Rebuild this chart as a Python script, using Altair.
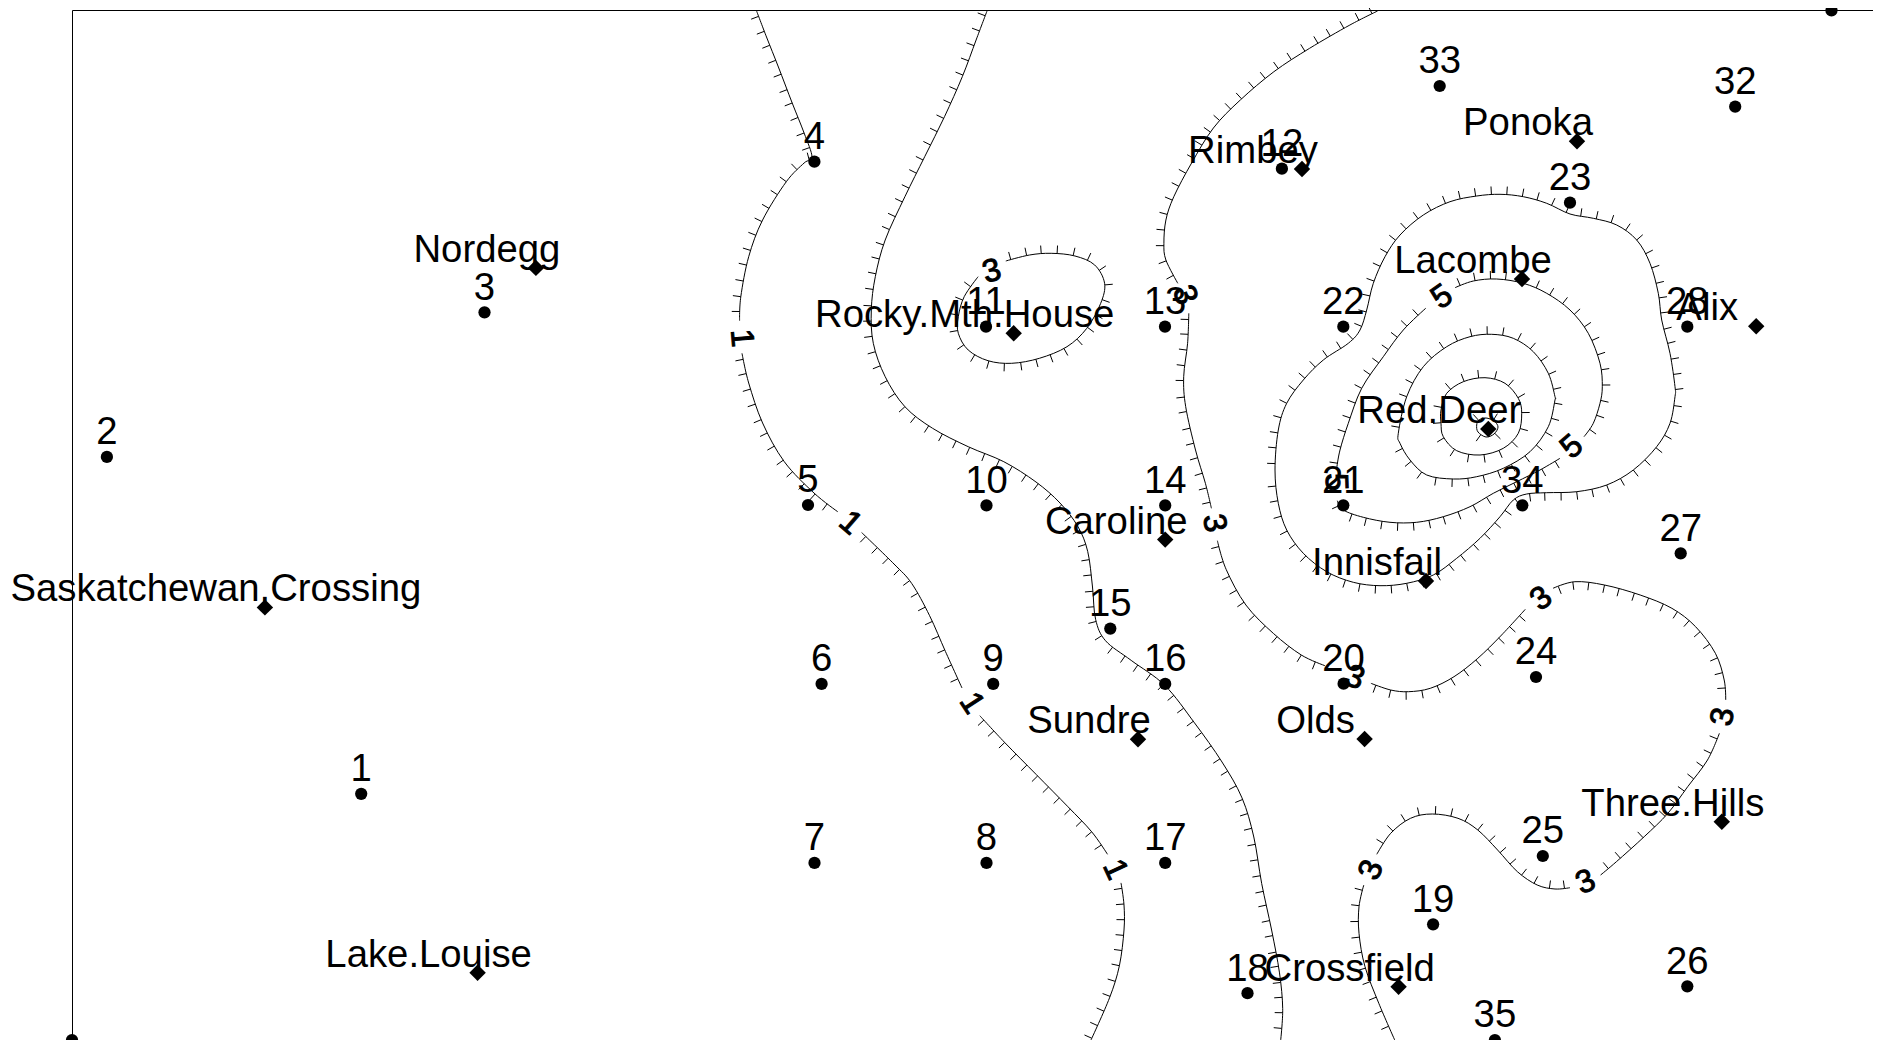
import numpy as np
import pandas as pd
import altair as alt

# Station numbers and locations
station_id = [1,2,3,4,5,6,7,8,9,10,11,12,13,14,15,16,17,18,19,20,21,22,23,24,25,26,27,28,32,33,34,35]
station_x = [361.2,106.9,484.5,814.4,808,821.6,814.5,986.5,993.2,986.5,986,1281.9,1165,1165.2,1110.3,1165.2,1165.2,1247.5,1433.1,1343.6,1343.3,1343.3,1570,1536,1542.8,1687.3,1680.7,1687.3,1735.2,1439.7,1522.3,1494.9]
station_y = [793.8,456.9,312.3,161.7,505,683.9,862.9,862.9,683.9,505.4,326.7,168.7,326.7,505.4,628.6,683.9,862.9,993.2,924.3,683.7,505.3,326.7,202.7,677,856,986.3,553.3,326.7,106.7,86,505.3,1040]
corner_x = [72, 1831.5]
corner_y = [1040, 10.5]

# Towns
town_name = ["Nordegg","Saskatchewan.Crossing","Lake.Louise","Rocky.Mth.House","Rimbey","Ponoka","Lacombe","Alix","Red.Deer","Caroline","Innisfail","Sundre","Olds","Three.Hills","Crossfield"]
town_x = [535.9,264.9,477.6,1013.7,1302,1577,1522,1756.2,1488.3,1165.2,1426,1138,1364.6,1721.8,1398.6]
town_y = [267.9,607.4,972.8,333.3,169,141.3,279,326.3,429,539.6,581,739.3,739,821.7,986.7]

# Contour labels
clabel_text = ["1","1","1","1","3","3","3","3","3","3","3","3","5","5","5"]
clabel_x = [741.7,850.5,971.9,1115.4,991.7,1184.9,1214.3,1355,1541.2,1722.6,1585.5,1370.9,1441.7,1571.7,1336]
clabel_y = [338,522.9,703,869.3,271,295,522.9,677.3,598.3,716.7,881.7,870,296.7,446.7,482]
clabel_angle = [85,41,57,65,345,70,80,21,323,280,337,293,325,319,88]

# Contour paths, traced in the direction that keeps the hachures on the right (open) or left (closed)
open_paths = {
"a1": [(756.6,11),(766.5,37),(778.4,67),(792.2,103),(804.1,133),(812,157),(804.1,163),(786.3,181.7),(762.6,220),(748.7,256.7),(740.8,296.7),(739.6,320.7)],
"a2": [(742,353.3),(748.7,383),(762.6,423),(784.3,461.7),(814,493),(837.7,511.7)],
"a3": [(861.6,532.5),(894,564),(911.8,583.6),(929.6,615.7),(945.4,651.4),(962,688)],
"a4": [(979.8,715.7),(1004.7,742.5),(1036.3,774.6),(1068,806.8),(1091.7,831.8),(1107.5,854.3)],
"a5": [(1121,882.9),(1124,905),(1124,930),(1119.4,965.7),(1109.5,997.9),(1091,1040)],
"b1": [(987,11),(976.1,40),(962.3,76.7),(944.5,116.7),(924.7,156.7),(904.9,196.7),(885.2,240),(875.3,276.7),(871.3,310),(873.3,343.3),(885.2,376.7),(904.9,406.7),(932.6,428.3),(968.2,446.7),(1003.8,461.7),(1036,482),(1060,503),(1077.8,526.4),(1087.7,551.4),(1092.5,587),(1095.6,619.3),(1105.5,640.7),(1131.2,660.4),(1164.8,685.4),(1194.5,722.9),(1222,762),(1242,797.9),(1253.8,837),(1261.7,883.6),(1271.6,930),(1279.5,972.9),(1282.7,1008.6),(1280.7,1040)],
"c1": [(1377.6,11),(1349.9,25),(1309.6,48.3),(1273.9,71.7),(1240.3,100),(1213.4,128),(1191.6,163),(1173.8,196.7),(1165.9,220),(1163.9,243.3),(1165.9,260),(1177.8,283.3)],
"c2": [(1188.8,313.3),(1187.6,343.3),(1183.7,376.7),(1185.7,406.7),(1195.5,450),(1205.4,483.3),(1211.4,508.3)],
"c3": [(1217.4,540.7),(1226.1,569.3),(1245.9,605),(1273.6,633.6),(1301.3,655),(1325,665.7)],
"c4": [(1370.9,683.3),(1390.7,690),(1408.5,691.7),(1430.3,688.3),(1454,676.7),(1477.8,658.3),(1501.6,635),(1525.3,609.3)],
"c5": [(1553,588.3),(1574.9,581.7),(1604.5,585),(1640.2,595),(1671.9,608.3),(1695.6,626.7),(1715.4,653.3),(1724.2,680),(1725.7,700)],
"c6": [(1719.4,733.3),(1707.5,760),(1687.7,786.7),(1667.9,813.3),(1644.2,836.7),(1616.4,861.7),(1600.6,875)],
"c7": [(1570,887.7),(1555,889),(1537.2,885),(1517.4,871.7),(1497.6,850),(1477.8,830),(1458,818.3),(1432.3,814),(1410.5,818.3),(1390.7,833.3),(1376.8,854.3)],
"c8": [(1363.8,885),(1359,906.7),(1359,933.3),(1365,966.7),(1378.8,1003.3),(1394.7,1040)],
}
left_open_paths = {
"d1": [(1005.8,261),(1029.5,255),(1051.2,253.3),(1075,256),(1094.7,265),(1104.6,283.3),(1100.7,303.3),(1086.8,328.3),(1067,346.7),(1039.4,358.3),(1011.7,363.3),(988,360.7),(968.2,350),(958.3,333.3),(958.3,316.7),(964.2,296.7),(978.1,276.7)],
"e1": [(1455,287.7),(1473.3,281),(1496.7,279),(1523.3,283.3),(1546.7,293.3),(1570,310),(1588.3,333.3),(1600,363.3),(1602.3,386.7),(1600,403.3),(1593.3,423.3),(1584,436.7)],
"e2": [(1560,458.3),(1540,470),(1516.7,481.7),(1493.3,493.3),(1470,506.7),(1443.3,516.7),(1416.7,522.3),(1390,522.3),(1363.3,517.3),(1343.3,510),(1337.3,500.7)],
"e3": [(1336.7,468.3),(1340,450),(1348.3,423.3),(1361.7,388.3),(1383.3,356.7),(1403.3,330),(1425.7,308.3)],
}
closed_paths = {
"f1": [(1275,470),(1278.3,430),(1286.7,403.3),(1303.3,380),(1323.3,360),(1348.3,343.3),(1360,330),(1366.7,310),(1373.3,283.3),(1385,256.7),(1400,235),(1423.3,215),(1450,201.7),(1476.7,196),(1500,194.3),(1523.3,196.7),(1546.7,203.3),(1570,214),(1593.3,218.3),(1616.7,225),(1636.7,240),(1650,263.3),(1658.3,293.3),(1661.7,320),(1670,353.3),(1675,386.7),(1675,396.7),(1670,423.3),(1656.7,446.7),(1633.3,470),(1606.7,485),(1576.7,491.7),(1546.7,492.7),(1526.7,494),(1513.3,500),(1500,516.7),(1480,538.3),(1456.7,558.3),(1433.3,575),(1406.7,583.3),(1380,585.7),(1353.3,582.3),(1326.7,571.7),(1303.3,553.3),(1286.7,530),(1278.3,503.3)],
"f2": [(1398.3,433.3),(1406.7,396.7),(1423.3,366.7),(1446.7,346.7),(1470,336.7),(1491.7,334.3),(1513.3,338.3),(1533.3,351.7),(1548.3,373.3),(1555,396.7),(1555,400),(1548.3,426.7),(1530,451.7),(1503.3,468.3),(1476.7,476.7),(1453.3,479),(1426.7,475),(1410,460),(1400,443.3)],
"f3": [(1446.7,393.3),(1463.3,381.7),(1485,377.7),(1505,383.3),(1518.3,398.3),(1521.7,413.3),(1518.3,433.3),(1503.3,448.3),(1480,455),(1456.7,450.7),(1443.3,436.7),(1441,423.3),(1441,410)],
"f4": [(1476.7,425),(1479,420),(1486,418),(1494,421),(1498,427),(1494,434),(1486,437),(1478,432)],
}

TICK_STEP = 15.6
TICK_LEN = 8.0


def spline(points, closed):
    p = np.array(points, float)
    if closed:
        q = np.vstack([p[-1], p, p[0], p[1]])
    else:
        q = np.vstack([2 * p[0] - p[1], p, 2 * p[-1] - p[-2]])
    out = []
    t = np.linspace(0, 1, 24, endpoint=False)[:, None]
    for i in range(len(q) - 3):
        a, b, c, d = q[i], q[i + 1], q[i + 2], q[i + 3]
        out.append(0.5 * (2 * b + (c - a) * t + (2 * a - 5 * b + 4 * c - d) * t ** 2 + (3 * b - a - 3 * c + d) * t ** 3))
    out = np.vstack(out + [q[-2][None, :]])
    return out


def hachures(points, closed, side, seg):
    s = spline(points, closed)
    d = np.hypot(*np.diff(s, axis=0).T)
    arc = np.concatenate([[0], np.cumsum(d)])
    rows = []
    for pos in np.arange(5.0, arc[-1] - 2.0, TICK_STEP):
        i = min(np.searchsorted(arc, pos), len(s) - 2)
        lo, hi = max(i - 3, 0), min(i + 3, len(s) - 1)
        tang = s[hi] - s[lo]
        tang = tang / np.hypot(*tang)
        px, py = s[i]
        rows.append(dict(seg=seg, x=px, y=py,
                         x2=px - side * tang[1] * TICK_LEN,
                         y2=py + side * tang[0] * TICK_LEN))
    return rows


def line_rows(paths):
    return pd.DataFrame([dict(seg=k, i=i, x=a, y=b) for k, v in paths.items() for i, (a, b) in enumerate(v)])


tick_rows = []
for k, v in open_paths.items():
    tick_rows += hachures(v, False, 1, k)
for k, v in left_open_paths.items():
    tick_rows += hachures(v, False, -1, k)
for k, v in closed_paths.items():
    tick_rows += hachures(v, True, -1, k)
ticks = pd.DataFrame(tick_rows)

stations = pd.DataFrame(dict(id=[str(s) for s in station_id], x=station_x, y=station_y))
corners = pd.DataFrame(dict(x=corner_x, y=corner_y))
towns = pd.DataFrame(dict(name=town_name, x=town_x, y=town_y))
clabels = pd.DataFrame(dict(t=clabel_text, x=clabel_x, y=clabel_y, a=clabel_angle))

X = alt.X("x:Q", scale=alt.Scale(domain=[72, 1873]),
          axis=alt.Axis(orient="top", domain=True, domainColor="#000000", domainWidth=1, ticks=False, labels=False, grid=False, title=None))
Y = alt.Y("y:Q", scale=alt.Scale(domain=[1040, 10]),
          axis=alt.Axis(orient="left", domain=True, domainColor="#000000", domainWidth=1, ticks=False, labels=False, grid=False, title=None))
LW = 1.0
FONT = "Liberation Sans"

open_all = dict(open_paths)
open_all.update(left_open_paths)
lines_open = alt.Chart(line_rows(open_all)).mark_line(color="black", strokeWidth=LW, interpolate="cardinal", tension=0).encode(
    x=X, y=Y, detail="seg:N", order="i:Q")
lines_closed = alt.Chart(line_rows(closed_paths)).mark_line(color="black", strokeWidth=LW, interpolate="cardinal-closed", tension=0).encode(
    x=X, y=Y, detail="seg:N", order="i:Q")
rules = alt.Chart(ticks).mark_rule(color="black", strokeWidth=LW).encode(
    x=X, y=Y, x2="x2:Q", y2="y2:Q")
dots = alt.Chart(stations).mark_point(shape="circle", filled=True, color="black", size=150, opacity=1).encode(x=X, y=Y)
corner_dots = alt.Chart(corners).mark_point(shape="circle", filled=True, color="black", size=150, opacity=1).encode(x=X, y=Y)
diamonds = alt.Chart(towns).mark_point(shape="diamond", filled=True, color="black", size=270, opacity=1).encode(x=X, y=Y)
station_text = alt.Chart(stations).mark_text(font=FONT, fontSize=38.3, color="black", align="center", baseline="alphabetic", dy=-12.7).encode(
    x=X, y=Y, text="id:N")
town_text = alt.Chart(towns).mark_text(font=FONT, fontSize=38.3, color="black", align="center", baseline="alphabetic", dx=-49, dy=-6).encode(
    x=X, y=Y, text="name:N")
contour_text = alt.Chart(clabels).mark_text(font=FONT, fontSize=32, color="black", align="center", baseline="middle", stroke="black", strokeWidth=1.0).encode(
    x=X, y=Y, text="t:N", angle=alt.Angle("a:Q", scale=None))

chart = alt.layer(lines_open, lines_closed, rules, corner_dots, dots, diamonds, station_text, town_text, contour_text).properties(
    width=1801, height=1030,
    padding={"left": 64, "top": 2, "right": 0, "bottom": 0},
    autosize=alt.AutoSizeParams(type="none", contains="content"),
).configure_view(stroke=None)

chart.save("out.html", embed_options={"renderer": "svg", "actions": False})
